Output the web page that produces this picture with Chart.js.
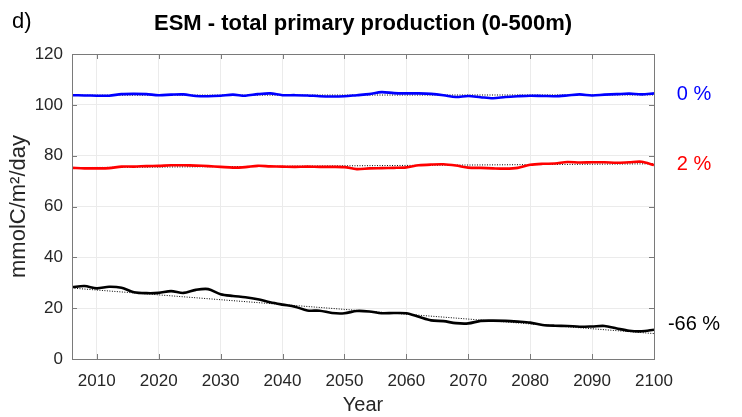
<!DOCTYPE html>
<html>
<head>
<meta charset="utf-8">
<script src="https://cdn.jsdelivr.net/npm/chart.js@4"></script>
<style>
  html, body { margin: 0; padding: 0; background: #fff; }
  #wrap { width: 742px; height: 417px; }
</style>
</head>
<body>
<div id="wrap"><canvas id="ppChart" width="742" height="417"></canvas></div>
<script>
// years sampled every 2 years
const years = [2006, 2008, 2010, 2012, 2014, 2016, 2018, 2020, 2022, 2024,
    2026, 2028, 2030, 2032, 2034, 2036, 2038, 2040, 2042, 2044,
    2046, 2048, 2050, 2052, 2054, 2056, 2058, 2060, 2062, 2064,
    2066, 2068, 2070, 2072, 2074, 2076, 2078, 2080, 2082, 2084,
    2086, 2088, 2090, 2092, 2094, 2096, 2098, 2100];

// 0 % run (blue)
const blueValues = [103.8, 103.7, 103.6, 103.6, 104.2, 104.3, 104.2, 103.8, 104.0, 104.1,
    103.5, 103.4, 103.6, 104.0, 103.6, 104.2, 104.5, 103.8, 103.8, 103.7,
    103.4, 103.3, 103.4, 103.8, 104.2, 105.0, 104.6, 104.5, 104.5, 104.3,
    103.8, 103.1, 103.5, 103.0, 102.6, 103.1, 103.4, 103.6, 103.5, 103.4,
    103.7, 104.1, 103.7, 104.0, 104.2, 104.4, 104.1, 104.5];

// 2 % run (red)
const redValues = [75.2, 75.0, 75.0, 75.1, 75.7, 75.7, 75.9, 76.0, 76.2, 76.2,
    76.1, 75.9, 75.6, 75.3, 75.5, 76.0, 75.8, 75.7, 75.6, 75.7,
    75.6, 75.6, 75.5, 74.7, 75.0, 75.1, 75.2, 75.4, 76.2, 76.5,
    76.6, 76.1, 75.3, 75.2, 75.0, 74.9, 75.2, 76.4, 76.8, 76.9,
    77.5, 77.3, 77.4, 77.4, 77.2, 77.4, 77.6, 76.3];

// -66 % run (black)
const blackValues = [28.2, 28.7, 27.8, 28.4, 28.0, 26.3, 25.9, 26.0, 26.7, 26.0,
    27.2, 27.5, 25.5, 24.8, 24.3, 23.5, 22.3, 21.4, 20.6, 19.1,
    19.0, 18.1, 18.0, 18.9, 18.7, 18.0, 18.1, 18.0, 16.6, 15.2,
    14.9, 14.1, 14.0, 15.0, 15.1, 15.0, 14.7, 14.3, 13.4, 13.1,
    13.0, 12.7, 12.8, 13.0, 12.0, 11.1, 10.9, 11.5];

// linear trend end points (2006, 2100)
const trendYears = [2006, 2100];
const blueTrend = [103.8, 103.9];
const redTrend = [75.3, 76.8];
const blackTrend = [27.9, 10.0];

const seriesLabels = ['0 %', '2 %', '-66 %'];
const labelValues = [103.9, 76.7, 13.7];
const seriesColors = ['#0000ff', '#ff0000', '#000000'];

const xTicks = [2010, 2020, 2030, 2040, 2050, 2060, 2070, 2080, 2090, 2100];
const yTicks = [0, 20, 40, 60, 80, 100, 120];

const titleText = 'ESM - total primary production (0-500m)';
const panelTag = 'd)';

const FONT = "'Liberation Sans', Arial, sans-serif";

const toPoints = (xs, ys) => xs.map((x, i) => ({ x: x, y: ys[i] }));

const lineSet = (vals, color) => ({
    data: toPoints(years, vals),
    borderColor: color,
    borderWidth: 2.6,
    pointRadius: 0,
    tension: 0.3,
    fill: false,
    order: 1
});

const trendSet = (vals) => ({
    data: toPoints(trendYears, vals),
    borderColor: '#000',
    borderWidth: 1,
    borderDash: [1, 1.5],
    pointRadius: 0,
    fill: false,
    order: 2
});

// box, inner tick marks, title and right-hand labels
const overlay = {
    id: 'overlay',
    afterDraw(chart) {
        const { ctx, chartArea: a, scales } = chart;
        const xs = scales.x, ys = scales.y;
        ctx.save();
        ctx.strokeStyle = '#7a7a7a';
        ctx.lineWidth = 1;
        ctx.strokeRect(Math.round(a.left) + 0.5, Math.round(a.top) + 0.5,
            Math.round(a.right - a.left), Math.round(a.bottom - a.top));
        const tl = 5;
        ctx.beginPath();
        xTicks.forEach(v => {
            const px = Math.round(xs.getPixelForValue(v)) + 0.5;
            ctx.moveTo(px, a.bottom); ctx.lineTo(px, a.bottom - tl);
            ctx.moveTo(px, a.top); ctx.lineTo(px, a.top + tl);
        });
        yTicks.forEach(v => {
            const py = Math.round(ys.getPixelForValue(v)) + 0.5;
            ctx.moveTo(a.left, py); ctx.lineTo(a.left + tl, py);
            ctx.moveTo(a.right, py); ctx.lineTo(a.right - tl, py);
        });
        ctx.stroke();

        ctx.textBaseline = 'middle';
        ctx.fillStyle = '#000';
        ctx.textAlign = 'center';
        ctx.font = 'bold 22px ' + FONT;
        ctx.fillText(titleText, (a.left + a.right) / 2, 24);
        ctx.textAlign = 'left';
        ctx.font = '22px ' + FONT;
        ctx.fillText(panelTag, 12, 22);

        ctx.textAlign = 'center';
        ctx.font = '20px ' + FONT;
        seriesLabels.forEach((t, i) => {
            ctx.fillStyle = seriesColors[i];
            ctx.fillText(t, 694, ys.getPixelForValue(labelValues[i]));
        });
        ctx.restore();
    }
};

window.onload = function() {
    const ctx = document.getElementById('ppChart').getContext('2d');
    new Chart(ctx, {
        type: 'line',
        data: {
            datasets: [
                lineSet(blueValues, seriesColors[0]),
                lineSet(redValues, seriesColors[1]),
                lineSet(blackValues, seriesColors[2]),
                trendSet(blueTrend),
                trendSet(redTrend),
                trendSet(blackTrend)
            ]
        },
        options: {
            responsive: false,
            animation: false,
            layout: { padding: { top: 54, right: 88, left: 0, bottom: 0 } },
            plugins: {
                legend: { display: false },
                tooltip: { enabled: false }
            },
            scales: {
                x: {
                    type: 'linear',
                    min: 2006,
                    max: 2100,
                    afterBuildTicks: (s) => { s.ticks = xTicks.map(v => ({ value: v })); },
                    afterFit: (s) => { s.height = 58; },
                    grid: { color: '#ebebeb', drawTicks: false },
                    border: { display: false },
                    ticks: {
                        color: '#262626',
                        font: { family: FONT, size: 17 },
                        padding: 12,
                        maxRotation: 0,
                        callback: (v) => String(v)
                    },
                    title: {
                        display: true,
                        text: 'Year',
                        color: '#262626',
                        font: { family: FONT, size: 20 },
                        padding: { top: 0, bottom: 0 }
                    }
                },
                y: {
                    min: 0,
                    max: 120,
                    afterBuildTicks: (s) => { s.ticks = yTicks.map(v => ({ value: v })); },
                    afterFit: (s) => { s.width = 72; },
                    grid: { color: '#ebebeb', drawTicks: false },
                    border: { display: false },
                    ticks: {
                        color: '#262626',
                        font: { family: FONT, size: 17 },
                        padding: 9
                    },
                    title: {
                        display: true,
                        text: 'mmolC/m²/day',
                        color: '#262626',
                        font: { family: FONT, size: 22 },
                        padding: { top: 6, bottom: 0 }
                    }
                }
            }
        },
        plugins: [overlay]
    });
};
</script>
</body>
</html>
